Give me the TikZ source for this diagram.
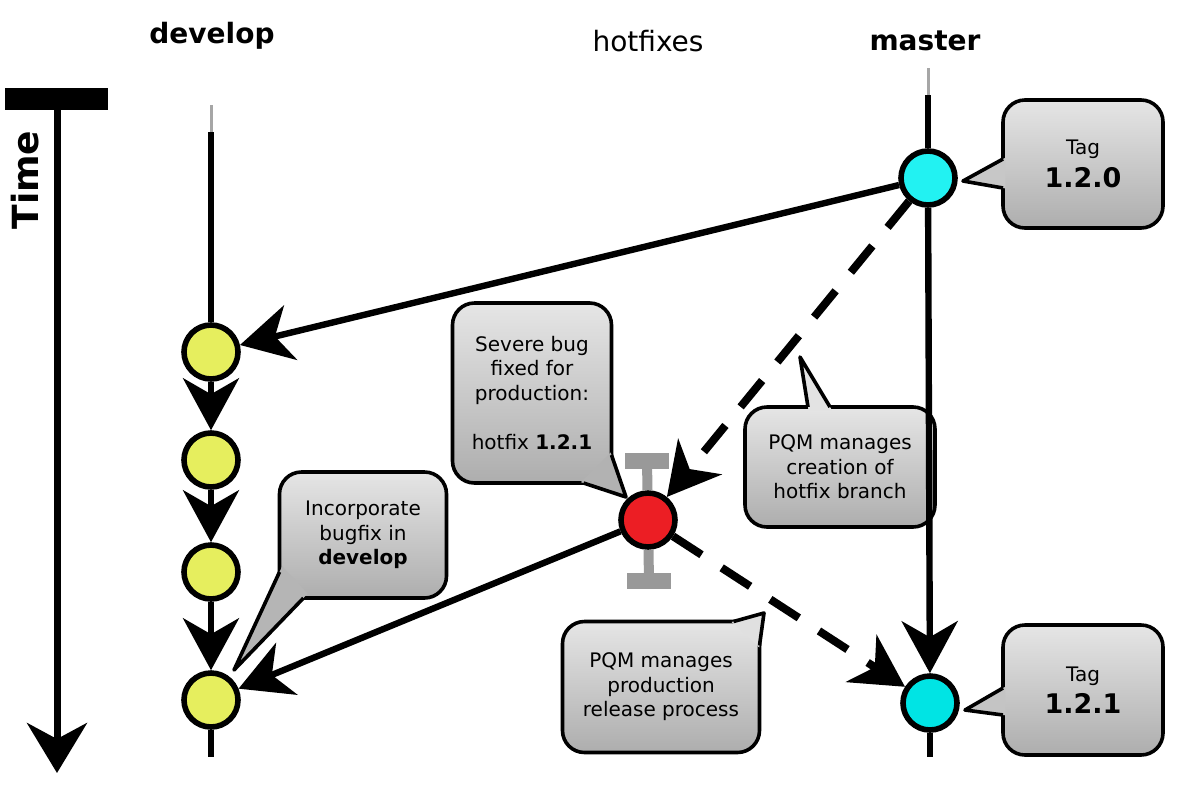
\documentclass[tikz,border=0pt]{standalone}
\usepackage{fontspec}
\setmainfont{DejaVu Sans}
\usetikzlibrary{arrows.meta,calc}

\definecolor{devyellow}{RGB}{230,238,94}
\definecolor{tagcyan}{RGB}{34,242,242}
\definecolor{tagcyandark}{RGB}{0,228,228}
\definecolor{fixred}{RGB}{236,30,36}

% tail of a speech bubble: base a, tip, base b
\newcommand{\bubbletail}[4][black!20]{%
  \fill[#1] (#3) -- ($(#3)!1.06!(#2)$) -- ($(#3)!1.06!(#4)$) -- cycle;
  \draw[tailline] (#2) -- (#3) -- (#4);}

\begin{document}
\begin{tikzpicture}[
      x=0.5pt, y=-0.5pt,
      head/.style={font=\fontsize{14}{16}\selectfont},
      commit/.style={circle, draw, line width=2.8pt, minimum size=27pt, inner sep=0pt},
      bubble/.style={draw, line width=1.8pt, rounded corners=11pt, top color=black!10, bottom color=black!32,
        align=center, inner sep=0pt, outer sep=0pt, font=\fontsize{10}{12.25}\selectfont},
      tailline/.style={line width=1.8pt, line join=round},
      branch/.style={line width=2.8pt},
      arr/.style={-{Stealth[length=26pt, width=28pt, inset=8pt]}, line width=3.2pt},
      darr/.style={arr, dash pattern=on 17pt off 12pt, line width=4pt},
      stub/.style={black!40, line width=5pt}
    ]
      \useasboundingbox (0,0) rectangle (1188,788);

      % time axis
      \node[font=\fontsize{18}{20}\selectfont\bfseries, rotate=90] (time) at (25,180) {Time};
      \draw[line width=11pt] (5,99) -- (108,99);
      \coordinate (t-top) at (57,110);
      \coordinate (t-end) at (57,773);
      \draw[-{Stealth[length=25pt, width=30pt, inset=8pt]}, line width=3.5pt] (t-top) -- (t-end);

      % branch names
      \node[head, font=\fontsize{14}{16}\selectfont\bfseries] (lbl-dev) at (212,36) {develop};
      \node[head] (lbl-fix) at (648,41) {hotfixes};
      \node[head, font=\fontsize{14}{16}\selectfont\bfseries] (lbl-mas) at (925,41) {master};

      % speech bubbles
      \node[bubble, minimum width=80pt, minimum height=64pt] (tagA) at (1083,164)
        {Tag\\[4pt]{\fontsize{13.5}{16}\selectfont\bfseries 1.2.0}};
      \coordinate (tipA) at (963,181);
      \coordinate (tagA-a) at ($(tagA.west)+(0,-5)$);
      \coordinate (tagA-b) at ($(tagA.west)+(0,24)$);
      \bubbletail[black!22]{tagA-a}{tipA}{tagA-b}

      \node[bubble, minimum width=80pt, minimum height=65pt] (tagB) at (1083,690)
        {Tag\\[4pt]{\fontsize{13.5}{16}\selectfont\bfseries 1.2.1}};
      \coordinate (tipB) at (965,710);
      \coordinate (tagB-a) at ($(tagB.west)+(0,-2)$);
      \coordinate (tagB-b) at ($(tagB.west)+(0,25)$);
      \bubbletail[black!23]{tagB-a}{tipB}{tagB-b}

      \node[bubble, minimum width=79.5pt, minimum height=90pt] (bug) at (532,393)
        {Severe bug\\fixed for\\production:\\[12.25pt]hotfix \textbf{1.2.1}};
      \coordinate (tipC) at (626,497);
      \coordinate (bug-a) at ($(bug.south east)+(-28,0)$);
      \coordinate (bug-b) at ($(bug.south east)+(0,-28)$);
      \bubbletail[black!30]{bug-a}{tipC}{bug-b}

      \node[bubble, minimum width=95pt, minimum height=60pt] (crt) at (840,467)
        {PQM manages\\creation of\\hotfix branch};
      \coordinate (tipD) at (800,357);
      \coordinate (crt-a) at ($(crt.north)+(-32,0)$);
      \coordinate (crt-b) at ($(crt.north)+(-10,0)$);
      \bubbletail[black!11]{crt-a}{tipD}{crt-b}

      \node[bubble, minimum width=83.5pt, minimum height=63pt] (inc) at (363,535)
        {Incorporate\\bugfix in\\\textbf{develop}};
      \coordinate (tipE) at (234,670);
      \coordinate (inc-a) at ($(inc.south west)+(0,-26)$);
      \coordinate (inc-b) at ($(inc.south west)+(24,0)$);
      \bubbletail[black!29]{inc-a}{tipE}{inc-b}

      \node[bubble, minimum width=98.5pt, minimum height=65.5pt] (prd) at (661,687)
        {PQM manages\\production\\release process};
      \coordinate (tipF) at (764,613);
      \coordinate (prd-a) at ($(prd.north east)+(-26,0)$);
      \coordinate (prd-b) at ($(prd.north east)+(0,24)$);
      \bubbletail[black!12]{prd-a}{tipF}{prd-b}

      % commits
      \node[commit, fill=devyellow] (d1) at (211,352) {};
      \node[commit, fill=devyellow] (d2) at (211,460) {};
      \node[commit, fill=devyellow] (d3) at (211,572) {};
      \node[commit, fill=devyellow] (d4) at (211,700) {};
      \node[commit, fill=tagcyan] (m1) at (928,178) {};
      \node[commit, fill=tagcyandark] (m2) at (930,703) {};
      \node[commit, fill=fixred] (hf) at (648,520) {};

      % branch lines
      \coordinate (dev-top) at (211,105);
      \coordinate (dev-fade) at (211,132);
      \coordinate (dev-end) at (211,757);
      \coordinate (mas-top) at (928,68);
      \coordinate (mas-fade) at (928,95);
      \coordinate (mas-end) at (930,757);
      \draw[black!35, line width=1.5pt] (dev-top) -- (dev-fade);
      \draw[branch] (dev-fade) -- (d1);
      \draw[branch] (d4) -- (dev-end);
      \draw[black!35, line width=1.5pt] (mas-top) -- (mas-fade);
      \draw[branch] (mas-fade) -- (m1);
      \draw[branch] (m2) -- (mas-end);

      % hotfix branch stubs
      \coordinate (hf-up) at (647,461);
      \coordinate (hf-down) at (649,581);
      \draw[stub, line width=8pt] ([xshift=-11pt]hf-up) -- ([xshift=11pt]hf-up);
      \draw[stub] (hf-up) -- (hf);
      \draw[stub, line width=8pt] ([xshift=-11pt]hf-down) -- ([xshift=11pt]hf-down);
      \draw[stub] (hf) -- (hf-down);

      % commits flow
      \draw[arr, line width=2.8pt] (d1) -- (d2);
      \draw[arr, line width=2.8pt] (d2) -- (d3);
      \draw[arr, line width=2.8pt] (d3) -- (d4);
      \draw[arr] (m1) -- (m2);
      \draw[arr] (m1) -- (d1);
      \draw[darr] (m1) -- (hf);
      \draw[darr] (hf) -- (m2);
      \draw[arr] (hf) -- (d4);
    \end{tikzpicture}
\end{document}
